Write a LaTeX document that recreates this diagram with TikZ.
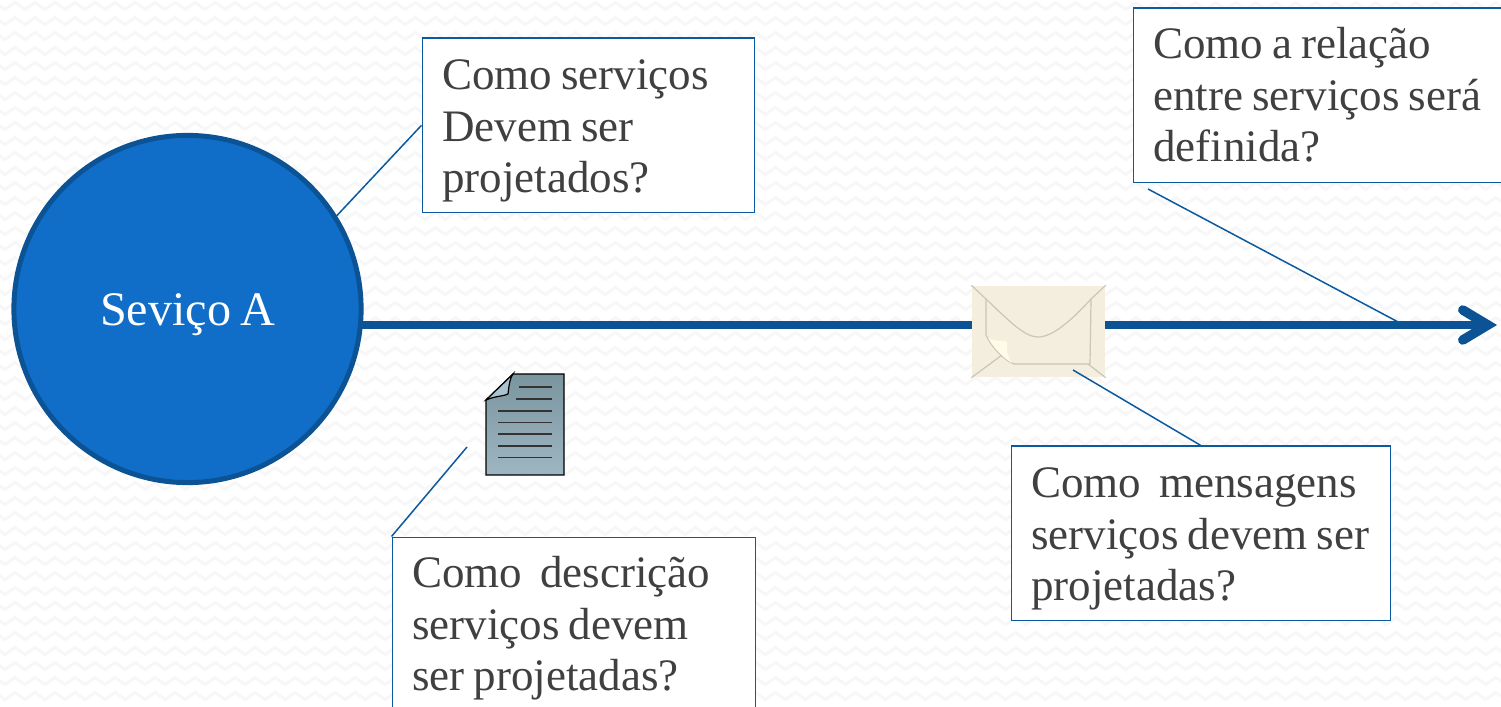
\documentclass[tikz,border=0pt]{standalone}
\usepackage{fontspec}
\setmainfont[WordSpace=0.75]{Liberation Serif}
\usetikzlibrary{arrows.meta,decorations.pathmorphing}
\definecolor{servblue}{HTML}{106EC8}
\definecolor{darkblue}{HTML}{0B5394}
\definecolor{linkblue}{HTML}{0B5AA0}
\definecolor{textgray}{HTML}{404040}
\definecolor{envfill}{HTML}{F3EEDD}
\definecolor{envline}{HTML}{C9C7B5}
\definecolor{curlfill}{HTML}{FFFBE8}
\definecolor{doctop}{HTML}{7B959F}
\definecolor{docbottom}{HTML}{9DB6C2}
\definecolor{docfold}{HTML}{A9C3D0}
\tikzset{
    questionbox/.style={draw=linkblue, line width=0.015cm, fill=white, anchor=north west,
        inner xsep=0.2cm, inner ysep=0pt, align=left, text=textgray, minimum height=1.74cm,
        font=\fontsize{12.8}{14.6}\selectfont,
        execute at begin node={\rule{0pt}{0.41cm}\spaceskip=.2em\relax}},
    link/.style={draw=linkblue, line width=0.015cm},
    wave/.style={draw=black!3, line width=0.03cm, decorate,
        decoration={zigzag, segment length=0.2cm, amplitude=0.035cm}},
    docline/.style={draw=black!80, line width=0.012cm}
}
\begin{document}
\begin{tikzpicture}[x=0.01cm, y=-0.01cm]
    \useasboundingbox (0, 0) rectangle (1501, 707);
    \foreach \y in {6, 21, ..., 710} {
        \draw[wave] (-10, \y) -- (1510, \y);
    }
    % message line
    \coordinate (arrowstart) at (360, 325);
    \coordinate (arrowend) at (1497, 325);
    \draw[darkblue, line width=0.075cm, -{Straight Barb[line cap=round, line join=miter, length=0.25cm, width=0.3cm, line width=0.095cm]}] (arrowstart) -- (arrowend);
    \node[circle, draw=darkblue, fill=servblue, line width=0.05cm, minimum size=3.47cm, text=white,
        font=\fontsize{13.7}{16}\selectfont] (serviceA) at (187.5, 309) {\raisebox{-0.06cm}[0.3cm][0.1cm]{Seviço A}};

    \node[questionbox, text width=2.92cm] (boxProjeto) at (421.5, 37.5) {Como serviços\\Devem ser\\projetados?};
    \node[questionbox, text width=3.37cm] (boxRelacao) at (1132.5, 7.5) {Como a relação\\entre serviços será\\definida?\rule[-0.11cm]{0pt}{0.1pt}};
    \node[questionbox, text width=3.39cm] (boxMensagem) at (1010.5, 445.5) {Como\ \ mensagens\\serviços devem ser\\projetadas?};
    \node[questionbox, text width=3.23cm, minimum height=1.72cm] (boxDescricao) at (391.5, 536.5) {Como\ \ descrição\\serviços devem\\ser projetadas?};

    % envelope
    \node[fill=envfill, minimum width=1.33cm, minimum height=0.91cm, inner sep=0pt] (envelope) at (1038.5, 331.5) {};
    \draw[envline, line width=0.012cm] (envelope.north west) -- (986, 299) .. controls (1010, 322) and (1025, 337) .. (1038, 337)
        .. controls (1052, 337) and (1070, 322) .. (1091, 299) -- (envelope.north east);
    \draw[envline, line width=0.012cm] (envelope.south west) -- (1002, 355);
    \draw[envline, line width=0.012cm] (envelope.south east) -- (1088, 364);
    \draw[envline, line width=0.012cm] (986, 299) -- (986, 335) .. controls (992, 348) and (1004, 360) .. (1014, 364) -- (1090, 364) -- (1091, 299);
    \fill[curlfill] (988, 338) .. controls (995, 342) and (1005, 340) .. (1007, 342) .. controls (1006, 350) and (1008, 358) .. (1012, 363) .. controls (1003, 358) and (994, 348) .. (988, 338) -- cycle;

    % document
    \shade[top color=doctop, bottom color=docbottom] (486, 400) -- (513, 374) -- (564, 374) -- (564, 475) -- (486, 475) -- cycle;
    \draw[black, line width=0.012cm] (486, 400) -- (513, 374) -- (564, 374) -- (564, 475) -- (486, 475) -- cycle;
    \filldraw[fill=docfold, draw=black, line width=0.012cm] (486, 400) .. controls (495, 396) and (505, 396) .. (508, 394) .. controls (509, 385) and (510, 378) .. (513, 374) -- cycle;
    \draw[docline] (519, 387) -- (552, 387);
    \draw[docline] (516, 399) -- (552, 399);
    \foreach \y in {411, 422.5, 434, 446, 457.5} {
        \draw[docline] (498, \y) -- (552, \y);
    }

    \coordinate (relacaoEnd) at (1148, 189);
    \coordinate (relacaoLine) at (1400, 323);
    \coordinate (envelopeEnd) at (1073, 370);
    \coordinate (docEnd) at (467, 447);
    \draw[link] (boxProjeto.west) -- (serviceA.32.5);
    \draw[link] (relacaoEnd) -- (relacaoLine);
    \draw[link] (envelopeEnd) -- (boxMensagem.north);
    \draw[link] (docEnd) -- (boxDescricao.north west);
\end{tikzpicture}
\end{document}
